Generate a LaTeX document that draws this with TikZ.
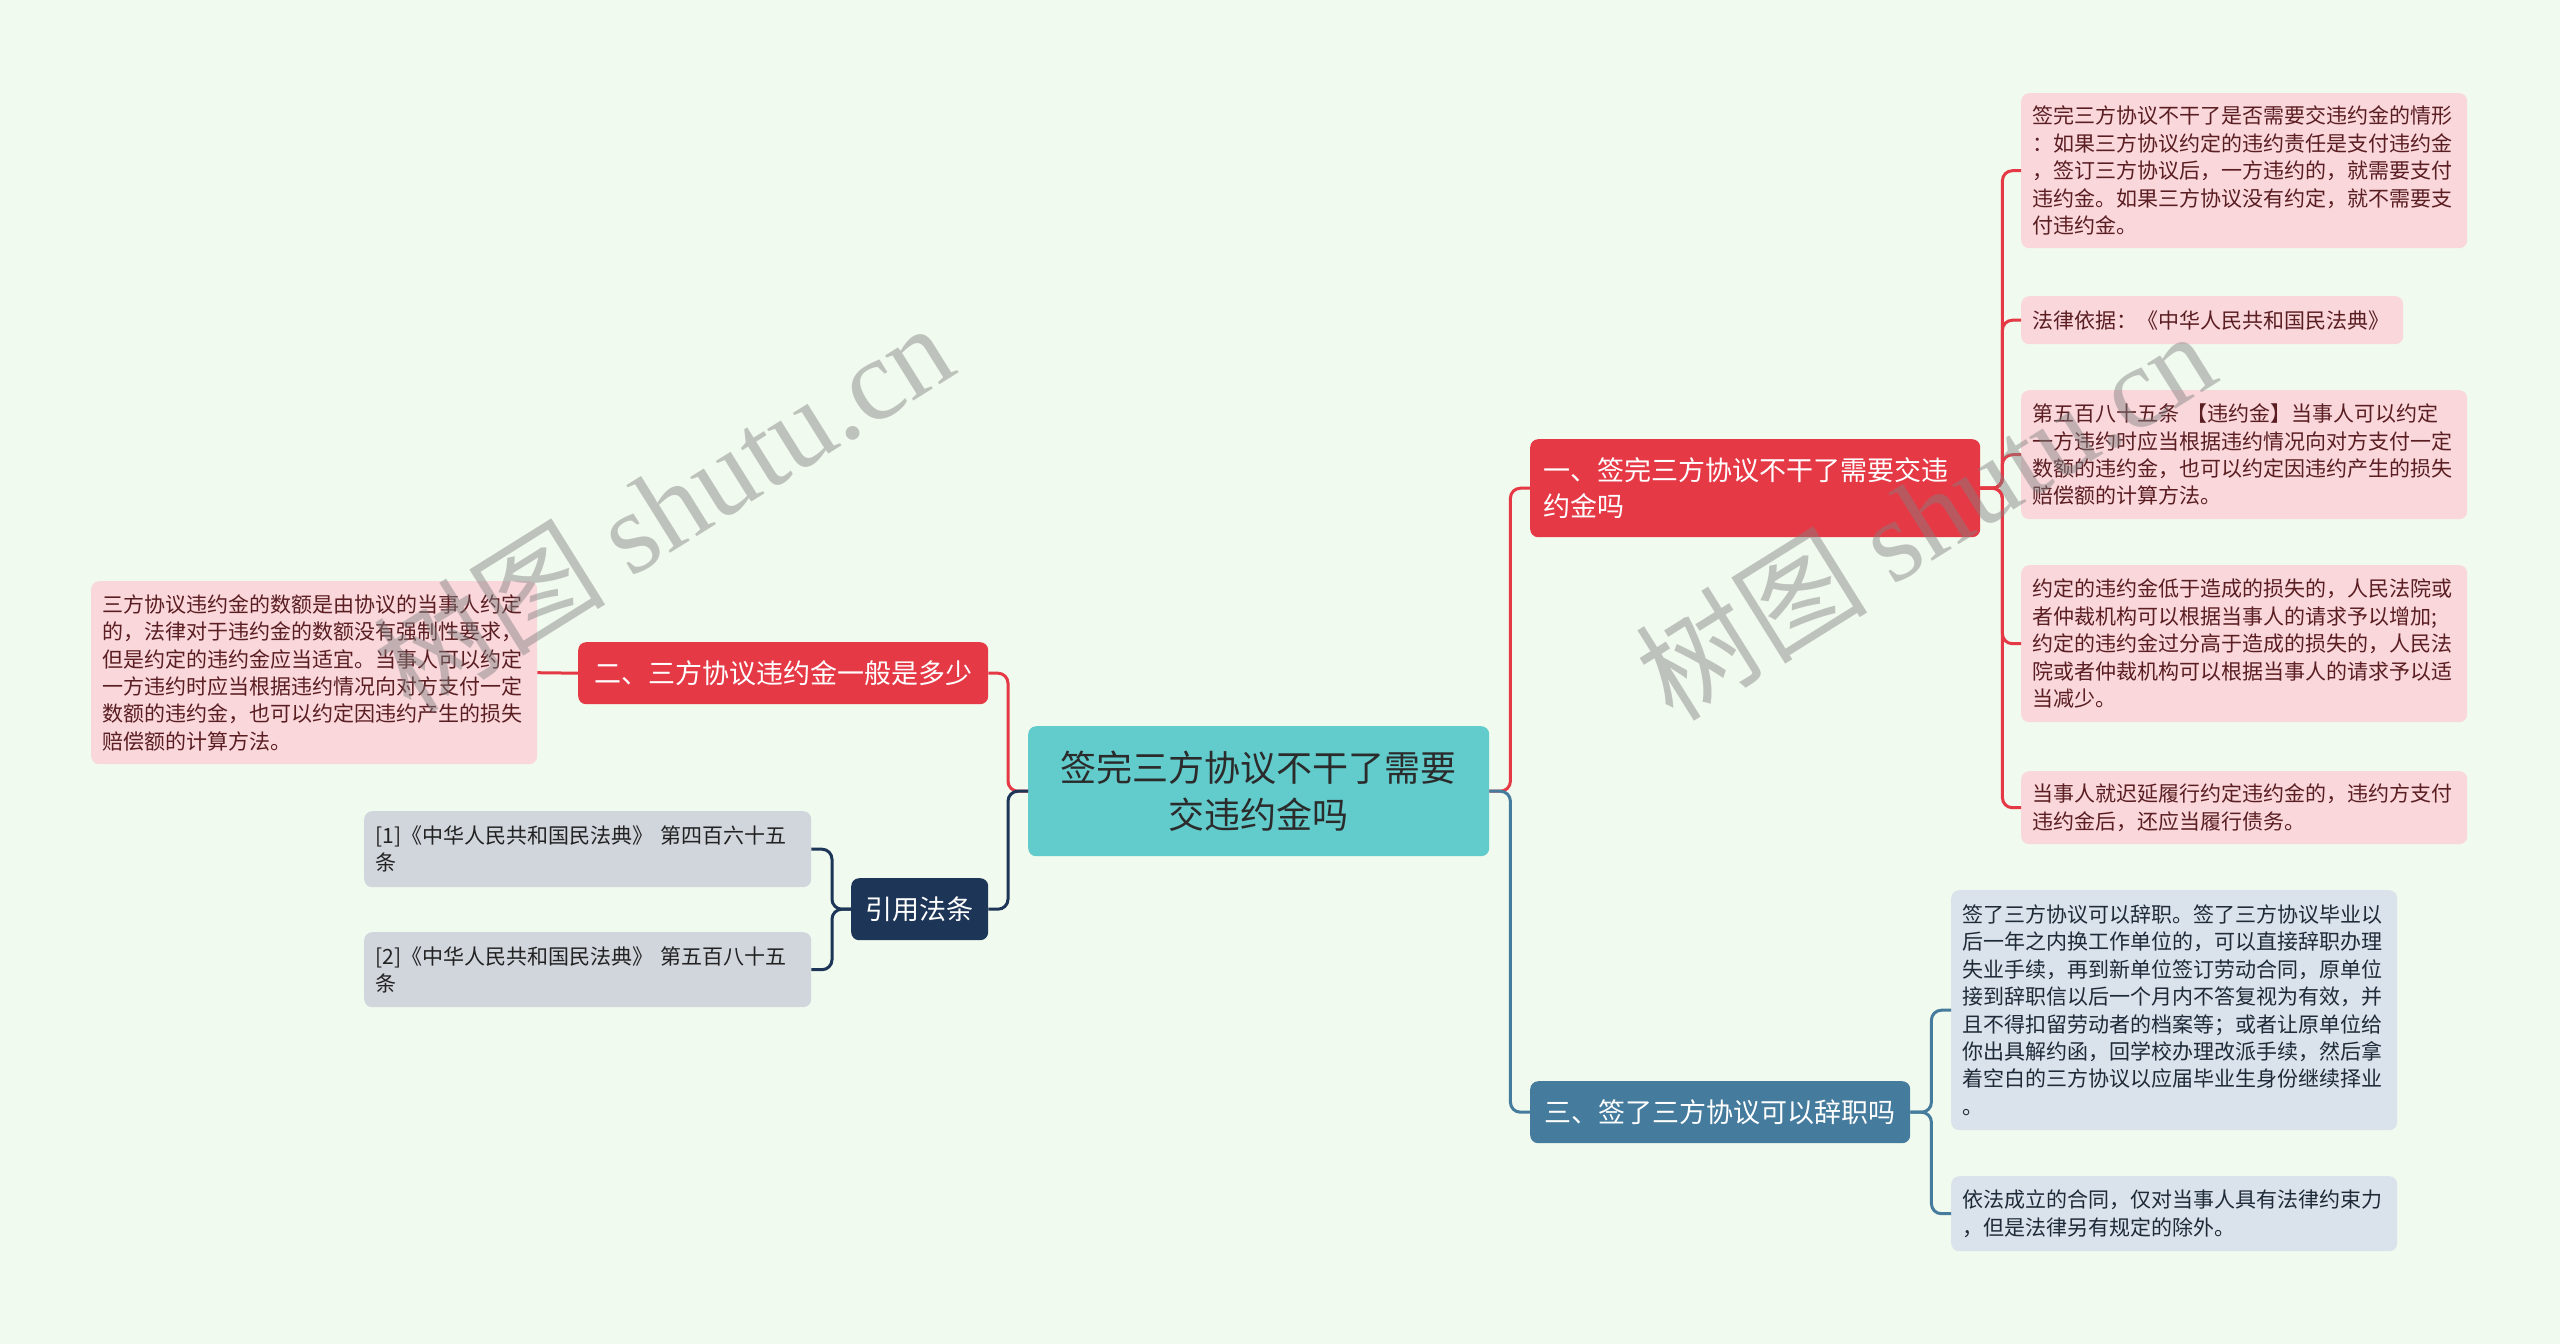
\documentclass[tikz,border=0pt]{standalone}
\usepackage{fontspec}
\setmainfont{Noto Sans CJK SC}
\newfontfamily\wmlatin{Liberation Serif}
\usetikzlibrary{calc}
\definecolor{bg}{HTML}{F1FAEE}
\definecolor{cred}{HTML}{E63946}
\definecolor{cblue}{HTML}{457B9D}
\definecolor{cnavy}{HTML}{1D3557}
\definecolor{cteal}{HTML}{62CBCC}
\definecolor{pinkleaf}{HTML}{F9D7DB}
\definecolor{pinktext}{HTML}{5A1E22}
\definecolor{blueleaf}{HTML}{DAE3EB}
\definecolor{bluetext}{HTML}{1E2A38}
\definecolor{greyleaf}{HTML}{D1D6DD}
\definecolor{greytext}{HTML}{222222}
\definecolor{centertext}{HTML}{2B2B2B}
\begin{document}
\begin{tikzpicture}[x=1pt,y=-1pt,
  box/.style={rounded corners=8pt, anchor=north west, inner ysep=0pt},
  leaf/.style={box, inner xsep=11pt, text width=424pt, align=left,
     font=\fontsize{21}{27.4}\selectfont},
  pinkbox/.style={leaf, fill=pinkleaf, text=pinktext},
  bluebox/.style={leaf, fill=blueleaf, text=bluetext},
  greybox/.style={leaf, fill=greyleaf, text=greytext},
  mainbox/.style={box, text=white, font=\fontsize{27}{36}\selectfont},
  link/.style={line width=3pt, rounded corners=10pt},
  wm/.style={text=black!50, opacity=0.45, font=\fontsize{116}{116}\selectfont, rotate=32}
]
\useasboundingbox (0,0) rectangle (2560,1344);
\fill[bg] (0,0) rectangle (2560,1344);

% center
\node[box, fill=cteal, text=centertext, minimum width=461pt, minimum height=130pt,
  text width=440pt, align=center, font=\fontsize{36}{47}\selectfont]
  (C) at (1028,726) {签完三方协议不干了需要\\交违约金吗};

% main branches
\node[mainbox, fill=cred, minimum width=450pt, minimum height=98pt, inner xsep=13pt,
  text width=424pt, align=left] (N1) at (1530,439) {一、签完三方协议不干了需要交违\\约金吗};
\node[mainbox, fill=cblue, minimum width=380pt, minimum height=62pt, inner xsep=10pt]
  (N3) at (1530,1081) {三、签了三方协议可以辞职吗};
\node[mainbox, fill=cred, minimum width=410pt, minimum height=62pt, inner xsep=10pt]
  (N2) at (578,642) {二、三方协议违约金一般是多少};
\node[mainbox, fill=cnavy, minimum width=137pt, minimum height=62pt, inner xsep=10pt]
  (NG) at (851,878) {引用法条};

% right red leaves
\node[pinkbox, minimum width=446pt, minimum height=155pt] (L1) at (2021,93)
  {签完三方协议不干了是否需要交违约金的情形\\：如果三方协议约定的违约责任是支付违约金\\，签订三方协议后，一方违约的，就需要支付\\违约金。如果三方协议没有约定，就不需要支\\付违约金。};
\node[pinkbox, minimum width=382pt, minimum height=48pt, text width=360pt] (L2) at (2021,296)
  {法律依据：《中华人民共和国民法典》};
\node[pinkbox, minimum width=446pt, minimum height=129pt] (L3) at (2021,390)
  {第五百八十五条 【违约金】当事人可以约定\\一方违约时应当根据违约情况向对方支付一定\\数额的违约金，也可以约定因违约产生的损失\\赔偿额的计算方法。};
\node[pinkbox, minimum width=446pt, minimum height=157pt] (L4) at (2021,565)
  {约定的违约金低于造成的损失的，人民法院或\\者仲裁机构可以根据当事人的请求予以增加;\\约定的违约金过分高于造成的损失的，人民法\\院或者仲裁机构可以根据当事人的请求予以适\\当减少。};
\node[pinkbox, minimum width=446pt, minimum height=73pt] (L5) at (2021,771)
  {当事人就迟延履行约定违约金的，违约方支付\\违约金后，还应当履行债务。};

% right blue leaves
\node[bluebox, minimum width=446pt, minimum height=240pt] (B1) at (1951,890)
  {签了三方协议可以辞职。签了三方协议毕业以\\后一年之内换工作单位的，可以直接辞职办理\\失业手续，再到新单位签订劳动合同，原单位\\接到辞职信以后一个月内不答复视为有效，并\\且不得扣留劳动者的档案等；或者让原单位给\\你出具解约函，回学校办理改派手续，然后拿\\着空白的三方协议以应届毕业生身份继续择业\\。};
\node[bluebox, minimum width=446pt, minimum height=75pt] (B2) at (1951,1176)
  {依法成立的合同，仅对当事人具有法律约束力\\，但是法律另有规定的除外。};

% left leaves
\node[pinkbox, minimum width=446pt, minimum height=183pt] (LL) at (91,581)
  {三方协议违约金的数额是由协议的当事人约定\\的，法律对于违约金的数额没有强制性要求，\\但是约定的违约金应当适宜。当事人可以约定\\一方违约时应当根据违约情况向对方支付一定\\数额的违约金，也可以约定因违约产生的损失\\赔偿额的计算方法。};
\node[greybox, minimum width=447pt, minimum height=76pt] (G1) at (364,811)
  {[1]《中华人民共和国民法典》 第四百六十五\\条};
\node[greybox, minimum width=447pt, minimum height=75pt] (G2) at (364,932)
  {[2]《中华人民共和国民法典》 第五百八十五\\条};

% connectors
\draw[link, cred] (C.east) -- ++(21,0) |- (N1.west);
\draw[link, cblue] (C.east) -- ++(21,0) |- (N3.west);
\draw[link, cred] (C.west) -- ++(-20,0) |- (N2.east);
\draw[link, cnavy] (C.west) -- ++(-20,0) |- (NG.east);
\foreach \t in {L1,L2,L3,L4,L5}
  \draw[link, cred] (N1.east) -- ++(22,0) |- (\t.west);
\foreach \t in {B1,B2}
  \draw[link, cblue] (N3.east) -- ++(21,0) |- (\t.west);
\draw[link, cred] (N2.west) -- (LL.east);
\foreach \t in {G1,G2}
  \draw[link, cnavy] (NG.west) -- ++(-19,0) |- (\t.east);

% watermarks
\node[wm] (W1) at (663,506) {树图 {\wmlatin shutu.cn}};
\node[wm] (W2) at (1925,514) {树图 {\wmlatin shutu.cn}};
\end{tikzpicture}
\end{document}
